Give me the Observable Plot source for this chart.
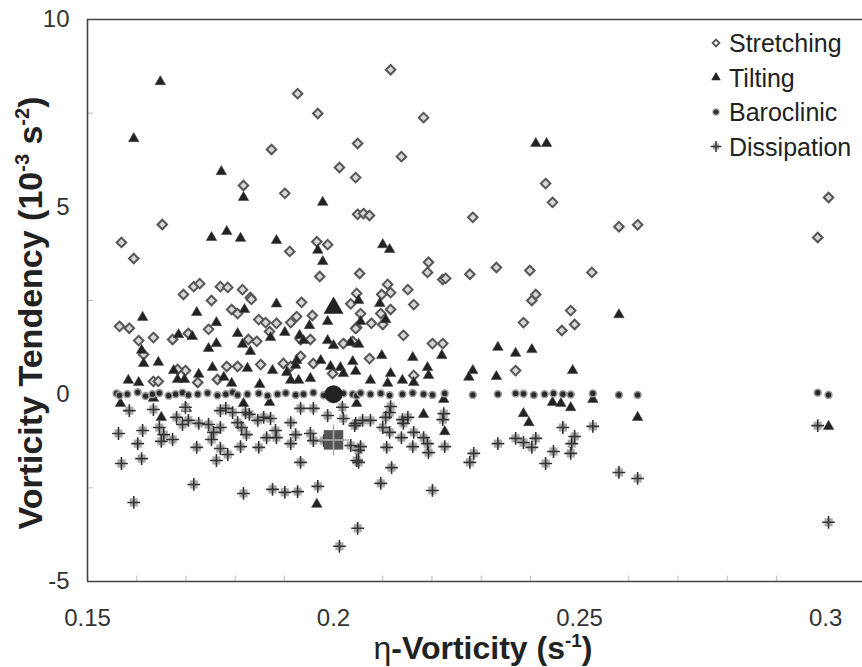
<!DOCTYPE html>
<html><head><meta charset="utf-8">
<script src="https://cdn.jsdelivr.net/npm/d3@7"></script>
<script src="https://cdn.jsdelivr.net/npm/@observablehq/plot@0.6"></script>
<style>
body{margin:0;background:#fff;}
#wrap{position:relative;width:862px;height:667px;}
</style></head><body><div id="wrap"></div>
<script>
const seriesNames = ["Stretching","Tilting","Baroclinic","Dissipation"];
const xTicks = [0.15, 0.2, 0.25, 0.3];
const yTicks = [-5, 0, 5, 10];
const xMinorTicks = [0.16,0.17,0.18,0.19,0.21,0.22,0.23,0.24,0.26,0.27,0.28,0.29];
const yMinorTicks = [-2.5, 2.5, 7.5];

// [eta-vorticity (s^-1), tendency (10^-3 s^-2)]
const stretching = [
[0.1927,8.02],[0.1968,7.49],[0.1874,6.53],[0.2049,6.69],[0.2012,6.05],[0.2045,5.78],[0.1817,5.57],[0.1901,5.36],
[0.2049,4.80],[0.2061,4.82],[0.2073,4.77],[0.1652,4.53],[0.1569,4.05],[0.1594,3.62],[0.1966,4.07],[0.1988,3.99],
[0.1911,3.81],[0.1972,3.14],[0.2116,8.66],[0.2183,7.38],[0.2138,6.34],[0.2283,4.72],[0.2431,5.62],[0.2445,5.12],
[0.2053,3.22],[0.2193,3.52],[0.2191,3.25],[0.2222,3.06],[0.2228,3.09],[0.2277,3.20],[0.2331,3.38],[0.2399,3.30],
[0.2525,3.25],[0.2110,2.93],[0.2098,2.66],[0.2116,2.71],[0.2151,2.79],[0.2047,2.69],[0.2411,2.66],[0.1716,2.87],
[0.1728,2.95],[0.1770,2.87],[0.1785,2.85],[0.1815,2.79],[0.1695,2.66],[0.1831,2.58],[0.1752,2.50],[0.1833,2.53],
[0.1935,2.45],[0.2035,2.41],[0.1565,1.81],[0.1585,1.76],[0.1604,1.43],[0.1634,1.51],[0.1673,1.46],[0.1705,1.62],
[0.1746,1.73],[0.1793,2.26],[0.1805,2.15],[0.1848,1.99],[0.1862,1.91],[0.1884,1.89],[0.1913,1.91],[0.1925,2.07],
[0.1957,2.10],[0.2047,1.78],[0.1827,1.46],[0.1844,1.41],[0.1870,1.67],[0.1933,1.46],[0.1953,1.46],[0.2020,1.35],
[0.2039,1.41],[0.1614,1.06],[0.1699,0.63],[0.1683,0.66],[0.1783,0.74],[0.1805,0.74],[0.1852,0.79],[0.1913,0.74],
[0.1898,0.82],[0.1933,1.01],[0.1959,0.82],[0.1998,0.55],[0.1634,0.34],[0.1644,0.34],[0.1724,0.31],[0.1764,0.39],
[0.2096,2.15],[0.2116,2.26],[0.2163,2.39],[0.2055,2.15],[0.2077,1.89],[0.2045,1.75],[0.2100,1.86],[0.2142,1.57],
[0.2201,1.35],[0.2222,1.35],[0.2073,0.95],[0.2163,0.50],[0.2403,2.50],[0.2386,1.91],[0.2482,2.23],[0.2490,1.86],
[0.2464,1.70],[0.2370,0.63],[0.2580,4.47],[0.2618,4.52],[0.2984,4.18],[0.3006,5.25]
];
const tilting = [
[0.1648,8.34],[0.1594,6.82],[0.1772,5.94],[0.1817,5.25],[0.1978,5.12],[0.1752,4.18],[0.1783,4.34],[0.1811,4.16],
[0.1884,4.10],[0.1968,3.84],[0.1978,3.54],[0.2411,6.69],[0.2433,6.69],[0.2100,3.99],[0.2114,3.86],[0.1884,2.41],
[0.1612,2.05],[0.1722,2.18],[0.1819,2.26],[0.1762,1.91],[0.1988,1.94],[0.1951,1.83],[0.1685,1.59],[0.1713,1.54],
[0.1746,1.22],[0.1762,1.35],[0.1805,1.62],[0.1815,1.33],[0.1831,1.14],[0.1872,1.51],[0.1901,1.65],[0.1931,1.57],
[0.1939,1.43],[0.1988,1.43],[0.2035,1.38],[0.1610,1.17],[0.1614,0.82],[0.1644,0.85],[0.1754,0.71],[0.1825,0.69],
[0.1876,0.63],[0.1905,0.58],[0.1925,0.90],[0.1923,0.77],[0.1974,0.90],[0.1994,0.74],[0.2014,0.71],[0.2020,0.55],
[0.2039,0.87],[0.2045,0.61],[0.1675,0.63],[0.1683,0.39],[0.1726,0.53],[0.1583,0.37],[0.1604,0.31],[0.1697,0.39],
[0.1777,0.45],[0.1793,0.29],[0.1850,0.26],[0.1913,0.37],[0.1929,0.37],[0.1953,0.42],[0.1567,-0.25],[0.1634,-0.11],
[0.1701,-0.38],[0.1650,-0.62],[0.1817,-0.25],[0.1870,-0.22],[0.2047,-0.25],[0.1966,-2.94],[0.2051,2.50],[0.2094,2.42],
[0.2106,1.99],[0.2055,1.94],[0.2000,1.30],[0.2051,1.33],[0.2098,1.03],[0.2161,0.98],[0.2220,1.03],[0.2191,0.71],
[0.2193,0.50],[0.2116,0.55],[0.2140,0.37],[0.2075,0.37],[0.2110,0.29],[0.2163,0.31],[0.2334,1.25],[0.2283,0.63],
[0.2275,0.45],[0.2331,0.47],[0.2370,1.09],[0.2403,1.19],[0.2486,0.63],[0.2224,-0.14],[0.2445,-0.22],[0.2462,-0.25],
[0.2482,-0.36],[0.2527,-0.14],[0.2183,-0.54],[0.2386,-0.52],[0.2397,-0.76],[0.2226,-1.00],[0.2580,2.12],[0.2618,-0.62],
[0.3006,-0.86]
];
const baroclinic = [
[0.1559,0.02],[0.1565,-0.03],[0.1581,0.00],[0.1602,0.05],[0.1618,-0.05],[0.1632,0.00],[0.1646,0.03],[0.1665,-0.04],
[0.1679,0.00],[0.1693,0.04],[0.1705,-0.02],[0.1724,0.00],[0.1744,0.03],[0.1764,-0.03],[0.1781,0.00],[0.1795,0.05],
[0.1805,-0.02],[0.1825,0.00],[0.1848,0.02],[0.1866,-0.04],[0.1886,0.00],[0.1903,0.03],[0.1923,-0.02],[0.1939,0.00],
[0.1959,0.04],[0.1980,-0.03],[0.2020,0.02],[0.2039,0.00],[0.2047,-0.04],[0.2055,0.03],[0.2075,0.00],[0.2096,0.02],
[0.2114,-0.03],[0.2140,0.00],[0.2161,0.03],[0.2183,0.00],[0.2201,-0.02],[0.2226,0.02],[0.2283,-0.02],[0.2334,0.00],
[0.2370,0.02],[0.2386,0.01],[0.2407,-0.02],[0.2429,0.00],[0.2447,0.02],[0.2466,0.00],[0.2482,-0.01],[0.2527,0.02],
[0.2580,-0.02],[0.2618,-0.02],[0.2984,0.04],[0.3006,-0.02]
];
const dissipation = [
[0.1585,-0.44],[0.1634,-0.41],[0.1699,-0.35],[0.1770,-0.44],[0.1781,-0.38],[0.1795,-0.49],[0.1821,-0.49],[0.1829,-0.54],
[0.1933,-0.38],[0.1959,-0.38],[0.2018,-0.35],[0.1681,-0.62],[0.1693,-0.81],[0.1705,-0.70],[0.1726,-0.78],[0.1746,-0.81],
[0.1770,-0.89],[0.1805,-0.76],[0.1813,-0.89],[0.1846,-0.70],[0.1858,-0.62],[0.1872,-0.65],[0.1913,-0.76],[0.1988,-0.57],
[0.2020,-0.65],[0.2045,-0.78],[0.1563,-1.05],[0.1612,-0.97],[0.1646,-0.89],[0.1655,-1.08],[0.1756,-1.02],[0.1752,-1.21],
[0.1823,-1.08],[0.1864,-1.16],[0.1884,-1.16],[0.1882,-0.97],[0.1923,-1.08],[0.1953,-1.05],[0.1959,-1.24],[0.1980,-1.24],
[0.2035,-1.37],[0.1602,-1.32],[0.1650,-1.26],[0.1673,-1.21],[0.1722,-1.42],[0.1770,-1.45],[0.1785,-1.61],[0.1762,-1.77],
[0.1811,-1.40],[0.1848,-1.42],[0.1913,-1.32],[0.1610,-1.72],[0.1569,-1.85],[0.1933,-1.82],[0.2047,-1.77],[0.1716,-2.41],
[0.1594,-2.89],[0.1817,-2.65],[0.1876,-2.54],[0.1901,-2.62],[0.1927,-2.60],[0.1968,-2.46],[0.2049,-3.58],[0.2012,-4.06],
[0.2116,-0.33],[0.2114,-0.49],[0.2224,-0.52],[0.2059,-0.70],[0.2075,-0.70],[0.2106,-0.62],[0.2151,-0.62],[0.2043,-0.84],
[0.2100,-0.89],[0.2114,-1.02],[0.2140,-0.68],[0.2142,-0.78],[0.2163,-1.02],[0.2222,-0.68],[0.2138,-1.16],[0.2183,-1.16],
[0.2191,-1.32],[0.2055,-1.40],[0.2051,-1.50],[0.2108,-1.42],[0.2161,-1.40],[0.2193,-1.56],[0.2226,-1.40],[0.2051,-1.82],
[0.2118,-1.96],[0.2096,-2.38],[0.2201,-2.57],[0.2285,-1.58],[0.2277,-1.82],[0.2334,-1.32],[0.2370,-1.18],[0.2386,-1.29],
[0.2403,-1.42],[0.2411,-1.18],[0.2466,-0.89],[0.2490,-1.13],[0.2484,-1.32],[0.2482,-1.58],[0.2447,-1.53],[0.2431,-1.85],
[0.2527,-0.86],[0.2580,-2.09],[0.2618,-2.25],[0.2984,-0.84],[0.3006,-3.42]
];
// mean values (large symbols)
const meanTilting = [[0.2, 2.30]];
const meanBaroclinic = [[0.2, 0.0]];
const meanDissipation = [[0.2, -1.22]];

const X = d => d[0], Y = d => d[1];
const FONT = "'Liberation Sans', Arial, Helvetica, sans-serif";

const chart = Plot.plot({
  width: 862, height: 667,
  marginLeft: 87, marginRight: 0, marginTop: 19, marginBottom: 86,
  x: {domain: [0.15, 0.3075], ticks: xTicks, tickFormat: d => String(d), tickSize: 0, tickPadding: 27, label: null},
  y: {domain: [-5, 10], ticks: yTicks, tickFormat: d => String(d), tickSize: 0, tickPadding: 18, label: null},
  style: {fontFamily: FONT, fontSize: "24px", color: "#333", background: "#fff", overflow: "visible"},
  marks: [
    Plot.ruleX(xMinorTicks, {y1: -5, y2: -4.86, stroke: "#bbb", strokeWidth: 1}),
    Plot.ruleY(yMinorTicks, {x1: 0.15, x2: 0.1512, stroke: "#bbb", strokeWidth: 1}),
    Plot.dot(stretching, {x: X, y: Y, symbol: "diamond2", r: 4.3, stroke: "#555", strokeWidth: 2, fill: "#d6d6d6"}),
    Plot.dot(tilting, {x: X, y: Y, symbol: "triangle", r: 3.9, fill: "#222", stroke: "#444", strokeWidth: 0.6}),
    Plot.dot(baroclinic, {x: X, y: Y, symbol: "circle", r: 3.4, fill: "#2a2a2a", stroke: "#999", strokeWidth: 1.6}),
    Plot.dot(dissipation, {x: X, y: Y, symbol: "square", r: 4.6, fill: "#a8a8a8"}),
    Plot.dot(dissipation, {x: X, y: Y, symbol: "plus", r: 4.2, stroke: "#333", strokeWidth: 1.6}),
    Plot.dot(meanTilting, {x: X, y: Y, symbol: "triangle", r: 7.4, fill: "#222"}),
    Plot.dot(meanBaroclinic, {x: X, y: Y, symbol: "circle", r: 9, fill: "#222"}),
    Plot.dot(meanDissipation, {x: X, y: Y, symbol: "square", r: 11, fill: "#555"}),
    Plot.dot(meanDissipation, {x: X, y: Y, symbol: "plus", r: 10, stroke: "#aaa", strokeWidth: 1.5}),
    Plot.ruleY([10], {stroke: "#444", strokeWidth: 1.6}),
    Plot.ruleY([-5], {stroke: "#444", strokeWidth: 1.6}),
    Plot.ruleX([0.15], {stroke: "#444", strokeWidth: 1.6})
  ]
});

document.getElementById("wrap").appendChild(chart);
const svg = d3.select(chart);

// axis titles
const xt = svg.append("text").attr("x", 483).attr("y", 659).attr("text-anchor", "middle")
  .attr("font-family", FONT).attr("font-size", 32).attr("font-weight", "bold").attr("fill", "#222");
xt.append("tspan").attr("font-weight", "normal").text("η");
xt.append("tspan").text("-Vorticity (s");
xt.append("tspan").attr("font-size", 19).attr("dy", -12).text("-1");
xt.append("tspan").attr("dy", 12).text(")");

const yt = svg.append("text").attr("transform", "translate(42,313) rotate(-90)").attr("text-anchor", "middle")
  .attr("font-family", FONT).attr("font-size", 34).attr("font-weight", "bold").attr("fill", "#222");
yt.append("tspan").text("Vorticity Tendency (10");
yt.append("tspan").attr("font-size", 20).attr("dy", -13).text("-3");
yt.append("tspan").attr("dy", 13).text(" s");
yt.append("tspan").attr("font-size", 20).attr("dy", -13).text("-2");
yt.append("tspan").attr("dy", 13).text(")");

// legend
const lg = svg.append("g").attr("font-family", FONT).attr("font-size", 25).attr("fill", "#222").attr("text-anchor", "start");
const legendSym = [
  {sym: d3.symbolDiamond2, size: 30, fill: "#fff", stroke: "#555", sw: 1.8},
  {sym: d3.symbolTriangle, size: 40, fill: "#222", stroke: "none", sw: 0},
  {sym: d3.symbolCircle, size: 32, fill: "#333", stroke: "#aaa", sw: 1.2},
  {sym: d3.symbolSquare, size: 40, fill: "#aaa", stroke: "none", sw: 0}
];
seriesNames.forEach((name, i) => {
  const cy = 43 + i * 34.5;
  const s = legendSym[i];
  lg.append("path").attr("transform", `translate(716,${cy})`)
    .attr("d", d3.symbol(s.sym, s.size)()).attr("fill", s.fill).attr("stroke", s.stroke).attr("stroke-width", s.sw);
  if (i === 3) {
    lg.append("path").attr("transform", `translate(716,${cy})`)
      .attr("d", d3.symbol(d3.symbolPlus, 40)()).attr("fill", "none").attr("stroke", "#333").attr("stroke-width", 1.5);
  }
  lg.append("text").attr("x", 729).attr("y", cy + 9).attr("text-anchor", "start").text(name);
});
</script></body></html>
